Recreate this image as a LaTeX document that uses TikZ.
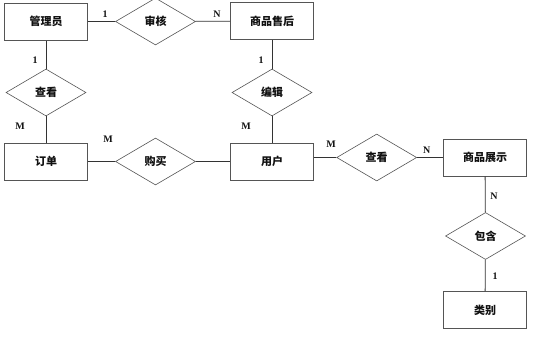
\documentclass[tikz,border=0pt]{standalone}
\usepackage{fontspec}
\setmainfont{Liberation Serif}
\newfontfamily\cjk{Noto Sans CJK SC}
\usepackage{xcolor}
\usepackage{tikz}
\usetikzlibrary{positioning,shapes.geometric}
\definecolor{erInk}{HTML}{111111}
\definecolor{erBorder}{HTML}{555555}
\definecolor{erLine}{HTML}{333333}
\tikzset{
  er diagram/.style={x=1pt, y=-1pt, font=\cjk\fontsize{11}{13}\selectfont\bfseries,
    text=erInk, line join=miter},
  er entity/.style={draw=erBorder, fill=white, line width=1pt,
    minimum width=83pt, minimum height=37pt, inner sep=0pt},
  er relation/.style={diamond, draw=erBorder, fill=white, line width=0.6pt,
    aspect=1.68, minimum width=80pt, minimum height=47pt, inner sep=0pt},
  er line/.style={draw=erLine, line width=0.8pt},
  er label/.style={font=\rmfamily\fontsize{10}{12}\selectfont\bfseries, text=erInk}
}
\begin{document}
\begin{tikzpicture}[er diagram]
\useasboundingbox (0,0) rectangle (557,340);
% entities
\node[er entity] (admin) at (46,21.5) {管理员};
\node[er entity] (service) at (272,21) {商品售后};
\node[er entity] (order) at (46,161.5) {订单};
\node[er entity] (user) at (272,161.5) {用户};
\node[er entity] (display) at (485,157.5) {商品展示};
\node[er entity] (category) at (485,310) {类别};
% relations
\node[er relation] (audit) at (155.5,21.5) {审核};
\node[er relation] (view) at (46,92.5) {查看};
\node[er relation] (edit) at (272,92.5) {编辑};
\node[er relation] (buy) at (155.5,161.5) {购买};
\node[er relation] (browse) at (376.7,157.5) {查看};
\node[er relation] (contain) at (485.5,236) {包含};
% connectors
\draw[er line] (admin) -- (audit);
\draw[er line] (audit) -- (service);
\draw[er line] (admin) -- (view);
\draw[er line] (view) -- (order);
\draw[er line] (service) -- (edit);
\draw[er line] (edit) -- (user);
\draw[er line] (order) -- (buy);
\draw[er line] (buy) -- (user);
\draw[er line] (user.east |- browse) -- (browse);
\draw[er line] (browse) -- (display);
\draw[er line] (display) -- (contain);
\draw[er line] (contain) -- (category);
% cardinalities
\node[er label] (c1) at (105,14) {1};
\node[er label] (c2) at (217,14) {N};
\node[er label] (c3) at (35,60) {1};
\node[er label] (c4) at (20,126) {M};
\node[er label] (c5) at (261,60) {1};
\node[er label] (c6) at (246,126) {M};
\node[er label] (c7) at (108,139) {M};
\node[er label] (c8) at (331,144.5) {M};
\node[er label] (c9) at (426.7,150.7) {N};
\node[er label] (c10) at (494,196) {N};
\node[er label] (c11) at (495,276) {1};
\end{tikzpicture}
\end{document}
